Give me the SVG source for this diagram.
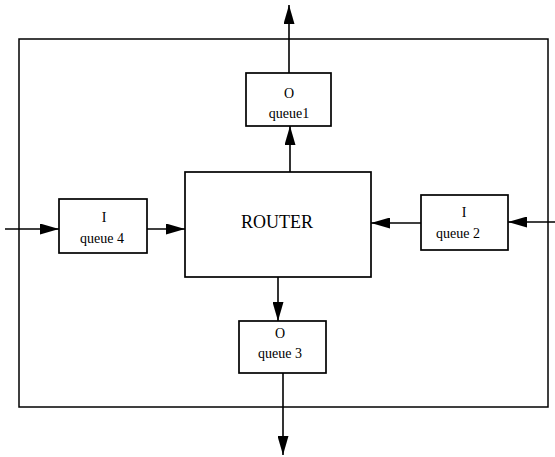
<svg xmlns="http://www.w3.org/2000/svg" width="555" height="457" viewBox="0 0 555 457">
<defs>
<style>
.box{fill:#fff;stroke:#000;stroke-width:1.7}
.frame{fill:none;stroke:#000;stroke-width:1.5}
.ln{stroke:#000;stroke-width:1.6;fill:none;marker-end:url(#ah)}
text{font-family:"Liberation Serif","Times New Roman",serif;fill:#000;text-anchor:middle}
.lbl{font-size:14px}
.big{font-size:18px}
</style>
<marker id="ah" viewBox="0 0 19 11" refX="19" refY="5.5" markerWidth="19" markerHeight="11" markerUnits="userSpaceOnUse" orient="auto">
<path d="M0,0 L19,5.5 L0,11 Z" fill="#000"/>
</marker>
</defs>
<rect class="frame" x="19" y="39" width="529" height="368"/>
<g id="connectors">
<line class="ln" x1="289" y1="73" x2="289" y2="5"/>
<line class="ln" x1="290" y1="172" x2="290" y2="126"/>
<line class="ln" x1="5" y1="229" x2="59" y2="229"/>
<line class="ln" x1="147" y1="229" x2="185" y2="229"/>
<line class="ln" x1="555" y1="222" x2="508" y2="222"/>
<line class="ln" x1="421" y1="223" x2="371" y2="223"/>
<line class="ln" x1="278" y1="277" x2="278" y2="321"/>
<line class="ln" x1="283" y1="373" x2="283" y2="455"/>
</g>
<g id="oqueue1">
<rect class="box" x="246" y="73" width="85" height="53"/>
<text class="lbl" x="289" y="98">O</text>
<text class="lbl" x="289" y="118">queue1</text>
</g>
<g id="router">
<rect class="box" x="185" y="172" width="186" height="105"/>
<text class="big" x="277" y="228">ROUTER</text>
</g>
<g id="iqueue4">
<rect class="box" x="59" y="199" width="88" height="54"/>
<text class="lbl" x="104" y="222">I</text>
<text class="lbl" x="102" y="243">queue 4</text>
</g>
<g id="iqueue2">
<rect class="box" x="421" y="195" width="87" height="55"/>
<text class="lbl" x="464" y="217">I</text>
<text class="lbl" x="458" y="238">queue 2</text>
</g>
<g id="oqueue3">
<rect class="box" x="239" y="321" width="87" height="52"/>
<text class="lbl" x="280" y="338">O</text>
<text class="lbl" x="280" y="358">queue 3</text>
</g>
</svg>
